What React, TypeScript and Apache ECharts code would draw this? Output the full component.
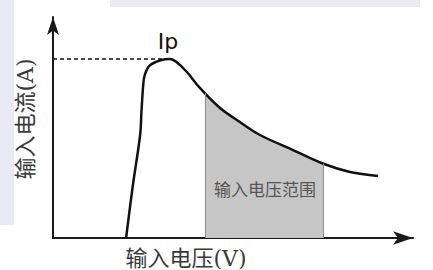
import React, { useEffect, useRef } from "react";
import * as echarts from "echarts";

// Curve (input current vs input voltage), arbitrary units
const curveX = [20.3, 22.2, 24.2, 24.6, 25.1, 25.5, 26.7, 28.6, 31.1, 32.5, 34.2, 37.2, 40.8, 46.4, 51.9, 57.5, 66.7, 75.3, 82.5, 90.3];
const curveY = [0, 24.0, 46.6, 57.9, 70.0, 73.8, 77.8, 79.7, 80.9, 81.0, 79.7, 75.1, 67.9, 58.8, 52.5, 46.6, 39.8, 33.5, 29.9, 28.1];
// Shaded input-voltage range
const rangeX = [42.2, 46.4, 51.9, 57.5, 66.7, 75.0];
const rangeY = [65.6, 58.8, 52.5, 46.6, 39.8, 33.7];
const peak = [32.5, 81.0];
const peakLabel = "Ip";
const rangeLabel = "输入电压范围";
const rangeLabelPos = [58.9, 21.7];
const xName = "输入电压(V)";
const yName = "输入电流(A)";

export default function App() {
  const ref = useRef<HTMLDivElement>(null);
  useEffect(() => {
    document.body.style.margin = "0";
    const chart = echarts.init(ref.current!, null, { renderer: "svg" });
    const curve = curveX.map((x, i) => [x, curveY[i]]);
    const range = rangeX.map((x, i) => [x, rangeY[i]]);
    const first = range[0];
    const last = range[range.length - 1];
    const fontCJK = "'DejaVu Serif', 'Noto Sans CJK SC', serif";
    chart.setOption({
      animation: false,
      backgroundColor: "#ffffff",
      grid: { left: 53, right: 20, top: 17, bottom: 32 },
      xAxis: {
        type: "value",
        min: 0,
        max: 100,
        axisLine: {
          show: true,
          onZero: false,
          symbol: ["none", "arrow"],
          symbolSize: [10, 20],
          lineStyle: { color: "#1a1a1a", width: 2 },
        },
        axisTick: { show: false },
        axisLabel: { show: false },
        splitLine: { show: false },
      },
      yAxis: {
        type: "value",
        min: 0,
        max: 100,
        axisLine: {
          show: true,
          onZero: false,
          symbol: ["none", "arrow"],
          symbolSize: [9, 18],
          lineStyle: { color: "#1a1a1a", width: 2 },
        },
        axisTick: { show: false },
        axisLabel: { show: false },
        splitLine: { show: false },
      },
      graphic: [
        { type: "rect", z: -10, shape: { x: 0, y: 0, width: 14, height: 225 }, style: { fill: "#e9e9f6" } },
        { type: "rect", z: -10, shape: { x: 110, y: 0, width: 310, height: 7 }, style: { fill: "#eaeaf7" } },
        {
          type: "text",
          x: 186,
          y: 258,
          style: {
            text: xName,
            fontSize: 22,
            fontFamily: fontCJK,
            fill: "#3a3a3a",
            textAlign: "center",
            textVerticalAlign: "middle",
          },
        },
        {
          type: "text",
          x: 25,
          y: 119,
          rotation: Math.PI / 2,
          style: {
            text: yName,
            fontSize: 22,
            fontFamily: fontCJK,
            fill: "#3a3a3a",
            textAlign: "center",
            textVerticalAlign: "middle",
          },
        },
      ],
      series: [
        {
          type: "line",
          data: range,
          smooth: 0.35,
          symbol: "none",
          z: 1,
          lineStyle: { width: 0 },
          areaStyle: { color: "#c6c6c6", opacity: 1 },
          markLine: {
            silent: true,
            symbol: ["none", "none"],
            label: { show: false },
            lineStyle: { color: "#8c8c8c", width: 1, type: "solid" },
            data: [
              [{ coord: [first[0], 0] }, { coord: [first[0], first[1]] }],
              [{ coord: [last[0], 0] }, { coord: [last[0], last[1]] }],
            ],
          },
          markPoint: {
            symbol: "circle",
            symbolSize: 0,
            data: [{ coord: rangeLabelPos }],
            label: {
              show: true,
              position: "inside",
              formatter: rangeLabel,
              fontSize: 17,
              fontFamily: fontCJK,
              color: "#555555",
            },
          },
        },
        {
          type: "line",
          data: curve,
          smooth: 0.35,
          symbol: "none",
          z: 3,
          lineStyle: { color: "#111111", width: 2.5 },
          markLine: {
            silent: true,
            symbol: ["none", "none"],
            label: { show: false },
            lineStyle: { color: "#111111", width: 1.6, type: [4, 3] },
            data: [[{ coord: [0, peak[1]] }, { coord: [peak[0], peak[1]] }]],
          },
          markPoint: {
            symbol: "circle",
            symbolSize: 0,
            data: [{ coord: peak }],
            label: {
              show: true,
              position: "inside",
              offset: [-2, -17],
              formatter: peakLabel,
              fontSize: 22,
              fontFamily: "'DejaVu Sans', sans-serif",
              color: "#111111",
            },
          },
        },
      ],
    });
    return () => chart.dispose();
  }, []);
  return <div ref={ref} style={{ width: 433, height: 270 }} />;
}
